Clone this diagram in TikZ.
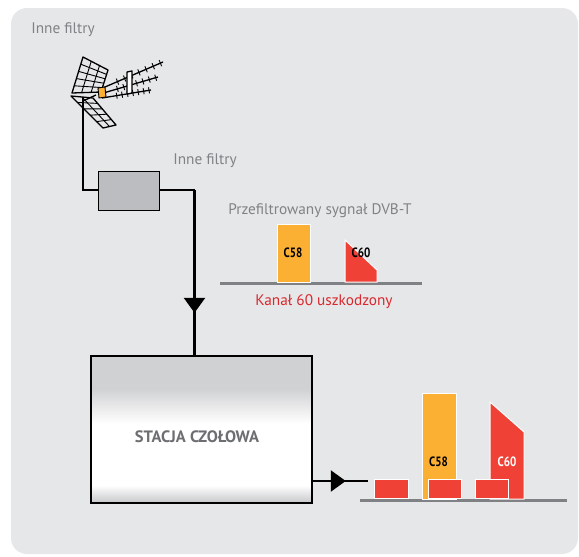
\documentclass[tikz,border=0pt]{standalone}
\usepackage{fontspec}
\setmainfont{PT Sans}
\usetikzlibrary{arrows.meta,decorations.markings,calc}
\definecolor{bgc}{HTML}{E6E7E8}
\definecolor{txtgrey}{HTML}{808285}
\definecolor{stgrey}{HTML}{6D6E71}
\definecolor{basegrey}{HTML}{808184}
\definecolor{filtgrey}{HTML}{BCBDC0}
\definecolor{orangec}{HTML}{FBB034}
\definecolor{redc}{HTML}{EF4136}
\definecolor{redtxt}{HTML}{D9282E}
\definecolor{shtop}{HTML}{D0D1D3}
\definecolor{shbot}{HTML}{C6C7C9}
\pgfdeclareverticalshading{stationshade}{100bp}{color(0bp)=(shbot); color(25bp)=(shbot); color(31bp)=(white); color(52bp)=(white); color(64bp)=(shtop); color(75bp)=(shtop); color(100bp)=(shtop)}
\tikzset{
  lbl/.style={text=txtgrey,font=\fontsize{15.3}{17}\selectfont,inner sep=0pt},
  wire/.style={line width=2.4pt,draw=black},
  boxline/.style={line width=1.8pt,draw=black},
  baseln/.style={line width=3pt,draw=basegrey},
  chan/.style={draw=white,line width=1pt},
  chlbl/.style={font=\fontsize{13.5}{15}\selectfont\bfseries,inner sep=0pt},
  ant/.style={line width=1.3pt,draw=black,line join=round},
  antthin/.style={line width=0.9pt,draw=black},
  tri/.style={postaction={decorate},decoration={markings,mark=at position #1 with {\arrow{Triangle[width=21pt,length=15pt]}}}}
}
\newcommand{\cond}[1]{\scalebox{0.82}[1]{#1}}
\begin{document}
\begin{tikzpicture}[x=1pt,y=-1pt]
\useasboundingbox (0,0) rectangle (579,557);
\fill[bgc,rounded corners=16pt] (11,8) rectangle (578,554);

% ---- antenna ----
\begin{scope}
% booms
\draw[ant] (98,90) -- (163,62);
\draw[ant] (100,94) -- (158,77);
\draw[ant] (102,98) -- (151,90);
\foreach \t in {0.3,0.41,0.52,0.63,0.74,0.85,0.96}{
  \draw[antthin] ($(98,90)!\t!(163,62)+(-1.2,-3)$) -- ($(98,90)!\t!(163,62)+(1.2,3)$);
  \draw[antthin] ($(100,94)!\t!(158,77)+(-0.9,-3)$) -- ($(100,94)!\t!(158,77)+(0.9,3)$);
  \draw[antthin] ($(102,98)!\t!(151,90)+(-0.5,-3)$) -- ($(102,98)!\t!(151,90)+(0.5,3)$);
}
\draw[ant,fill=white] (127,72) -- (132,71) -- (132,93) -- (127,94) -- cycle;
% upper reflector panel
\draw[ant] (83,57) -- (108,70) -- (101,92) -- (72,93) -- cycle;
\foreach \t in {0.2,0.4,0.6,0.8}
  \draw[antthin] ($(83,57)!\t!(72,93)$) -- ($(108,70)!\t!(101,92)$);
\foreach \t in {0.33,0.66}
  \draw[antthin] ($(83,57)!\t!(108,70)$) -- ($(72,93)!\t!(101,92)$);
% lower reflector panel
\draw[ant] (71,96) -- (93,98) -- (116,125) -- (103,128) -- cycle;
\foreach \t in {0.2,0.4,0.6,0.8}
  \draw[antthin] ($(71,96)!\t!(103,128)$) -- ($(93,98)!\t!(116,125)$);
\foreach \t in {0.5}
  \draw[antthin] ($(71,96)!\t!(93,98)$) -- ($(103,128)!\t!(116,125)$);
% orange element
\draw[line width=0.9pt,fill=orangec] (98,88) -- (105,87) -- (106,97) -- (99,98) -- cycle;
% mast support
\draw[ant] (83,101) -- (96,95);
\end{scope}
\coordinate (mast) at (83,98);

% ---- texts ----
\node[lbl] (t1) at (63,30) {Inne filtry};
\node[lbl] (t2) at (205,161) {Inne filtry};
\node[lbl] (t3) at (320,211) {Przefiltrowany sygnał DVB-T};
\node[lbl,text=redtxt] (t4) at (324,302) {Kanał 60 uszkodzony};

% ---- filter box ----
\node[boxline,fill=filtgrey,minimum width=61pt,minimum height=39pt,inner sep=0pt,anchor=north west] (filt) at (97.5,170.5) {};
\coordinate (corner1) at (83,190);
\coordinate (corner2) at (194.5,190);

% ---- station ----
\path[shading=stationshade,draw=black,line width=1.6pt] (91,356) rectangle (312,503);
\node[inner sep=0pt,minimum width=221pt,minimum height=147pt,anchor=north west] (st) at (91,356) {};
\node[font=\fontsize{16.5}{18}\selectfont\bfseries,text=stgrey,inner sep=0pt] (stl) at (197,437) {STACJA CZOŁOWA};

% ---- wires ----
\draw[wire,line join=miter] (mast) -- (corner1) -- (filt.west|-corner1);
\draw[wire,line join=miter] (filt.east|-corner2) -- (corner2);
\draw[wire,tri=0.74] (corner2) -- (st.north-|corner2);
\coordinate (outend) at (368,481);
\draw[wire,tri=0.6] (st.east|-outend) -- (outend);

% ---- small spectrum ----
\draw[baseln] (220,283.5) -- (422,283.5);
\filldraw[chan,fill=orangec] (277,224.5) rectangle (310,282);
\filldraw[chan,fill=redc] (345,240) -- (377,270) -- (377,282) -- (345,282) -- cycle;
\node[chlbl] (c58a) at (293,253) {\cond{C58}};
\node[chlbl] (c60a) at (361,253) {\cond{C60}};

% ---- big spectrum ----
\draw[baseln] (360,500.5) -- (567,500.5);
\filldraw[chan,fill=orangec] (422,393) rectangle (456,499);
\filldraw[chan,fill=redc] (490,402) -- (524,432) -- (524,499) -- (490,499) -- cycle;
\filldraw[chan,fill=redc] (374.5,479.5) rectangle (408,498.5);
\filldraw[chan,fill=redc] (428,479.5) rectangle (461.5,498.5);
\filldraw[chan,fill=redc] (475,479.5) rectangle (508.5,498.5);
\node[chlbl] (c58b) at (438.5,462) {\cond{C58}};
\node[chlbl,text=white] (c60b) at (507,462) {\cond{C60}};
\end{tikzpicture}
\end{document}
